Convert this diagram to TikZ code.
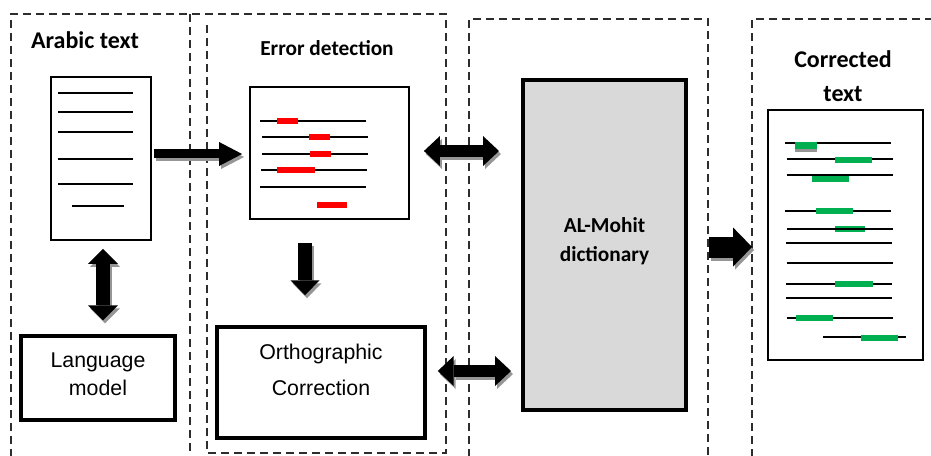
\documentclass[tikz,border=0pt]{standalone}
\usepackage{fontspec}
\setmainfont{Carlito}
\newfontfamily\arialf{Liberation Sans}
\usetikzlibrary{arrows.meta,calc}
\definecolor{shadowgray}{RGB}{150,150,150}
\definecolor{errred}{RGB}{255,0,0}
\definecolor{okgreen}{RGB}{0,176,80}
\definecolor{dictgray}{RGB}{217,217,217}
\definecolor{panelline}{RGB}{45,45,45}
\newcommand\fatarrow[3]{%
  \draw[#1, shadowgray, transform canvas={xshift=1.5pt,yshift=-2.25pt}] #2 -- #3;
  \draw[#1, black] #2 -- #3;}
\begin{document}
\begin{tikzpicture}[x=0.75pt,y=-0.75pt,
  panel/.style={draw=panelline, line width=1.5pt, dash pattern=on 6pt off 3.75pt},
  doc/.style={draw, line width=1.4pt, inner sep=0pt, fill=white},
  thickbox/.style={draw, line width=2.6pt, inner sep=0pt, align=center,
    font=\arialf\fontsize{16}{21}\selectfont},
  dictbox/.style={draw, line width=3pt, fill=dictgray, inner sep=0pt, align=center,
    font=\bfseries\fontsize{16}{21.75}\selectfont},
  title/.style={font=\bfseries\fontsize{18}{25.5}\selectfont, align=center, inner sep=0pt},
  subtitle/.style={font=\bfseries\fontsize{16}{20}\selectfont, align=center, inner sep=0pt},
  plaintext/.style={font=\arialf\fontsize{16}{27}\selectfont, align=center, inner sep=0pt},
  lmtext/.style={font=\arialf\fontsize{16}{21}\selectfont, align=center, inner sep=0pt},
  txtline/.style={line width=1.1pt},
  errbar/.style={errred, line width=4.5pt},
  okbar/.style={okgreen, line width=4.5pt},
  arrA/.style={line width=6.75pt, -{Triangle[length=17.25pt,width=18pt,line width=0pt]}},
  arrH/.style={line width=9pt, {Triangle[length=12pt,width=22.5pt,line width=0pt]}-{Triangle[length=12pt,width=22.5pt,line width=0pt]}},
  arrV/.style={line width=10.5pt, {Triangle[length=11.25pt,width=22.5pt,line width=0pt]}-{Triangle[length=11.25pt,width=22.5pt,line width=0pt]}},
  arrD/.style={line width=10.5pt, -{Triangle[length=11.25pt,width=21.75pt,line width=0pt]}},
  arrR/.style={line width=15.75pt, -{Triangle[length=14.25pt,width=29.25pt,line width=0pt]}}
]
\useasboundingbox (0,0) rectangle (931,456);

% dashed panels
\draw[panel] (11,470) -- (11,14) -- (446,14) -- (446,453) -- (207,453) -- (207,20);
\draw[panel] (190,14) -- (190,470);
\draw[panel] (469,470) -- (469,19) -- (708,19) -- (708,470);
\draw[panel] (752,470) -- (752,19) -- (940,19);

% titles
\node[title] (t1) at (85,40) {Arabic text};
\node[subtitle] (t2) at (327,48) {Error detection};
\node[title] (t4) at (843,76) {Corrected\\text};

% boxes
\node[doc, minimum width=75pt, minimum height=122.25pt] (doc1) at (101,158.5) {};
\node[doc, minimum width=119.25pt, minimum height=99pt] (doc2) at (329.5,153) {};
\node[thickbox, minimum width=115.5pt, minimum height=63pt] (lm) at (98,378) {};
\node[lmtext] (lmtxt) at (98,374) {Language\\model};
\node[thickbox, minimum width=156pt, minimum height=83.25pt] (ortho) at (321,382.5) {};
\node[plaintext] (orthotxt) at (321,370) {Orthographic\\Correction};
\node[dictbox, minimum width=122.25pt, minimum height=247.5pt] (dict) at (604.5,245) {};
\node[font=\bfseries\fontsize{16}{21.75}\selectfont, align=center, inner sep=0pt] (dicttxt) at (604.5,241.5) {AL-Mohit\\dictionary};
\node[doc, minimum width=116.25pt, minimum height=187.5pt] (doc3) at (845.5,235) {};

% doc1 lines
\foreach \yy in {93,112,132,159,184} \draw[txtline] (58,\yy) -- (133,\yy);
\draw[txtline] (72,206) -- (124,206);

% doc2 lines and errors
\draw[txtline] (260,121) -- (366,121);
\draw[txtline] (262,137) -- (368,137);
\draw[txtline] (262,154) -- (368,154);
\draw[txtline] (261,170) -- (367,170);
\draw[txtline] (260,187) -- (366,187);
\draw[errbar] (277,121) -- (298,121);
\draw[errbar] (309,137) -- (330,137);
\draw[errbar] (310,154) -- (331,154);
\draw[errbar] (277,170) -- (315,170);
\draw[errbar] (317,205) -- (347,205);

% doc3 lines and corrections
\draw[shadowgray, line width=3pt] (795,150) -- (817,150);
\draw[txtline] (785,143) -- (891,143);
\draw[okgreen, line width=5pt] (795,145.5) -- (817,145.5);
\draw[txtline] (787,159) -- (893,159);
\draw[okbar] (835,160) -- (872,160);
\draw[txtline] (787,175) -- (893,175);
\draw[okbar] (812,179) -- (849,179);
\draw[txtline] (785,211) -- (891,211);
\draw[okbar] (816,211) -- (853,211);
\draw[okbar] (835,229) -- (865,229);
\draw[txtline] (787,229) -- (893,229);
\draw[txtline] (786,243) -- (892,243);
\draw[txtline] (787,263) -- (893,263);
\draw[txtline] (786,284) -- (892,284);
\draw[okbar] (835,284) -- (873,284);
\draw[txtline] (786,298) -- (892,298);
\draw[txtline] (787,318) -- (893,318);
\draw[okbar] (796,318) -- (833,318);
\draw[txtline] (823,337) -- (906,337);
\draw[okbar] (861,338) -- (898,338);

% block arrows
\fatarrow{arrA}{($(doc1.east|-doc2.west)+(2,1)$)}{($(doc2.west)+(-7,1)$)}
\fatarrow{arrV}{($(doc1.south)+(2,8)$)}{($(doc1.south|-lm.north)+(2,-14)$)}
\fatarrow{arrD}{($(doc2.south)+(-24.5,23)$)}{($(doc2.south|-ortho.north)+(-24.5,-30)$)}
\fatarrow{arrH}{($(doc2.east)+(14,-2)$)}{($(dict.west|-doc2.east)+(-22,-2)$)}
\fatarrow{arrH}{($(ortho.east)+(11,-11.5)$)}{($(dict.west|-ortho.east)+(-10,-11.5)$)}
\fatarrow{arrR}{($(dict.east)+(21,2)$)}{($(doc3.west|-dict.east)+(-15,2)$)}
\end{tikzpicture}
\end{document}
